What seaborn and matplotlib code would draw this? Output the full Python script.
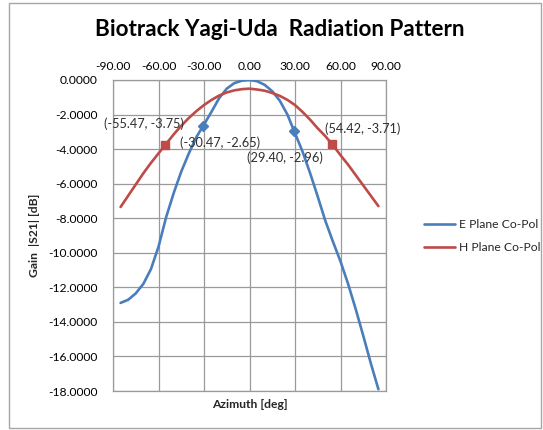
import matplotlib
matplotlib.use("Agg")
import matplotlib.pyplot as plt
import seaborn as sns
import pandas as pd
from matplotlib.ticker import FuncFormatter
from matplotlib.patches import Rectangle

# ---- data ----
azimuth = [-85, -80, -75, -70, -65, -60, -55, -50, -45, -40, -35, -30, -25, -20, -15, -10, -5,
           0, 5, 10, 15, 20, 25, 30, 35, 40, 45, 50, 55, 60, 65, 70, 75, 80, 85]
e_plane = [-12.90, -12.72, -12.35, -11.80, -10.95, -9.65, -7.95, -6.55, -5.30, -4.25, -3.30, -2.58, -1.83, -1.05, -0.50, -0.18, -0.04,
           0.00, -0.07, -0.28, -0.65, -1.20, -2.00, -3.08, -4.15, -5.40, -6.75, -8.15, -9.35, -10.50, -11.80, -13.25, -14.80, -16.40, -17.90]
h_plane = [-7.35, -6.70, -6.05, -5.40, -4.80, -4.25, -3.70, -3.15, -2.65, -2.20, -1.80, -1.45, -1.15, -0.90, -0.72, -0.60, -0.53,
           -0.50, -0.55, -0.62, -0.75, -0.92, -1.15, -1.45, -1.85, -2.30, -2.80, -3.25, -3.77, -4.35, -4.90, -5.50, -6.10, -6.70, -7.30]

e_mark_az = [-30.47, 29.40]
e_mark_gain = [-2.65, -2.96]
h_mark_az = [-55.47, 54.42]
h_mark_gain = [-3.75, -3.71]

series_names = ["E Plane Co-Pol", "H Plane Co-Pol"]
x_ticks = [-90, -60, -30, 0, 30, 60, 90]
y_ticks = [0, -2, -4, -6, -8, -10, -12, -14, -16, -18]

blue = "#4a7ebb"
red = "#be4b48"

sns.set_theme(style="white")
plt.rcParams["font.family"] = ["Lato", "DejaVu Sans"]

df = pd.DataFrame({
    "Azimuth": azimuth * 2,
    "Gain": e_plane + h_plane,
    "Series": [series_names[0]] * len(azimuth) + [series_names[1]] * len(azimuth),
})

fig = plt.figure(figsize=(5.43, 4.30), dpi=100)
fig.patch.set_facecolor("white")
fig.add_artist(Rectangle((9 / 543, 1 - 428 / 430), (541 - 9) / 543, (428 - 3) / 430,
                         transform=fig.transFigure, fill=False, edgecolor="#a6a6a6", linewidth=1.0))

ax = fig.add_axes([113 / 543, 1 - 391 / 430, (386 - 113) / 543, (391 - 80) / 430])

sns.lineplot(data=df, x="Azimuth", y="Gain", hue="Series", palette=[blue, red],
             linewidth=1.9, ax=ax, legend=True, zorder=3)

ax.plot(e_mark_az, e_mark_gain, linestyle="none", marker="D", markersize=5.5, color=blue, zorder=4)
ax.plot(h_mark_az, h_mark_gain, linestyle="none", marker="s", markersize=5.5, color=red, zorder=4)

offsets = {(-55.47): (-21, 21), (-30.47): (17, -17), (29.40): (-9, -27), (54.42): (31, 15)}
for xs, ys in [(e_mark_az, e_mark_gain), (h_mark_az, h_mark_gain)]:
    for xv, yv in zip(xs, ys):
        ax.annotate(f"({xv:.2f}, {yv:.2f})", (xv, yv), xytext=offsets[xv], textcoords="offset pixels",
                    ha="center", va="center", fontsize=9.2, color="#303030", zorder=5)

ax.set_xlim(-90, 90)
ax.set_ylim(-18, 0)
ax.set_xticks(x_ticks)
ax.set_yticks(y_ticks)
ax.xaxis.tick_top()
ax.xaxis.set_major_formatter(FuncFormatter(lambda v, p: f"{v:.2f}"))
ax.yaxis.set_major_formatter(FuncFormatter(lambda v, p: f"{v:.4f}"))
ax.tick_params(axis="x", length=0, pad=6, labelsize=8.7, labelcolor="black")
ax.tick_params(axis="y", length=0, pad=11, labelsize=8.7, labelcolor="black")
ax.grid(True, color="#9a9a9a", linewidth=0.9)
ax.set_axisbelow(True)
for s in ax.spines.values():
    s.set_color("#9a9a9a")
    s.set_linewidth(0.9)

ax.xaxis.set_label_position("bottom")
ax.set_xlabel("Azimuth [deg]", fontsize=8.7, fontweight="bold", labelpad=6)
ax.set_ylabel("Gain  |S21| [dB]", fontsize=8.7, fontweight="bold", labelpad=6)

fig.text(280 / 543, 1 - 30 / 430, "Biotrack Yagi-Uda  Radiation Pattern", ha="center", va="center",
         fontsize=16.2, fontweight="bold", color="black")

handles, labels = ax.get_legend_handles_labels()
ax.legend(handles, labels, loc="upper left", bbox_to_anchor=(419 / 543, 1 - 214 / 430),
          bbox_transform=fig.transFigure, frameon=False, fontsize=8.7,
          handlelength=2.6, handletextpad=0.3, labelspacing=1.0, borderaxespad=0)

fig.savefig("out.png", dpi=100, facecolor="white")
